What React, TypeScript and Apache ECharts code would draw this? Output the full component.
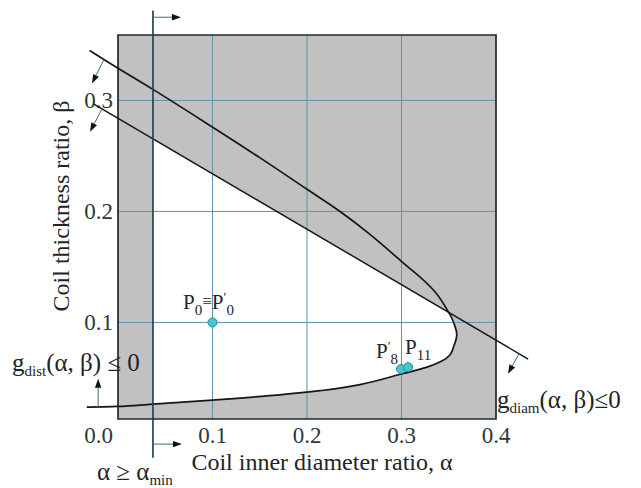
import React, { useEffect, useRef } from 'react';
import * as echarts from 'echarts';

const W = 641;
const H = 488;
const FONT = '"Liberation Serif", "Times New Roman", serif';
const INK = '#1c2628';
const TICK_INK = '#2d3839';
const GRID_BLUE = '#5f95a9';
const FRAME = '#1d2b2e';
const SHADE = '#c1c1c1';
const CURVE = '#161616';
const SHAFT = '#3f6f7b';
const SMOOTH = 0.4;

// axis ranges (alpha horizontal, beta vertical)
const X_MIN = 0;
const X_MAX = 0.4;
const X_STEP = 0.1;
const Y_MIN = 0.013;
const Y_MAX = 0.359;
const xGrid = [0.1, 0.2, 0.3];
const yGrid = [0.1, 0.2, 0.3];

// lower bound on alpha and the vertical extent of its marker line
const ALPHA_MIN = 0.037;
const alphaMinSpan = [-0.022, 0.381];

// g_diam boundary (straight line), end points
const gDiamAlpha = [-0.026, 0.434];
const gDiamBeta = [0.297, 0.067];

// g_dist boundary, traced from the lower branch round the nose to the upper branch
const gDistAlpha = [-0.033, 0.0, 0.037, 0.1, 0.16, 0.214, 0.256, 0.3, 0.327, 0.341, 0.351, 0.3555, 0.3585, 0.3555, 0.351, 0.334, 0.3, 0.265, 0.235, 0.2, 0.15, 0.101, 0.037, 0.0, -0.03];
const gDistBeta = [0.0237, 0.0243, 0.0264, 0.03, 0.034, 0.0385, 0.044, 0.0535, 0.0597, 0.0645, 0.0705, 0.079, 0.089, 0.099, 0.1075, 0.129, 0.155, 0.1805, 0.2, 0.22, 0.2485, 0.2755, 0.31, 0.329, 0.345];

// design points
const pointAlpha = [0.1, 0.2995, 0.307];
const pointBeta = [0.1, 0.058, 0.0597];

const txt = (size: number, extra: any = {}) => ({ fontFamily: FONT, fontSize: size, color: INK, fill: INK, opacity: 1, ...extra });

// annotation text: main run, subscripts
const richNote = {
  m: txt(25),
  d: txt(15, { padding: [17, 0, 0, 0] }),
};

// point names: main run, subscript, identity sign, prime
const richPoint = {
  m: txt(21),
  s: txt(15, { padding: [16, 0, 0, 0] }),
  q: txt(17),
  p: txt(13, { padding: [0, 0, 10, 0] }),
};

const pointLabels = [
  { text: '{m|P}{s|0}{q|≡}{m|P}{p|′}{s|0}', position: 'top', align: 'center', offset: [-4, 2] },
  { text: '{m|P}{p|′}{s|8}', position: 'top', align: 'right', offset: [-3, 4] },
  { text: '{m|P}{s|11}', position: 'top', align: 'left', offset: [-3, 2] },
];

// arrows: start point on a boundary (alpha, beta) and pixel direction
const arrowSpecs: [number, number, number, number][] = [
  [ALPHA_MIN, 0.375, 28, 0],
  [ALPHA_MIN, -0.0096, 29, 0],
  [-0.0148, 0.337, -12, 24],
  [-0.0169, 0.2925, -12, 23],
  [0.4243, 0.0718, -11, 20],
  [-0.021, 0.024, 0, -28],
];

function arrowEls(x0: number, y0: number, dx: number, dy: number) {
  const len = Math.hypot(dx, dy);
  const ux = dx / len;
  const uy = dy / len;
  const nx = -uy;
  const ny = ux;
  const tip = [x0 + dx, y0 + dy];
  const head = 9;
  const half = 3.2;
  const base = [tip[0] - ux * head, tip[1] - uy * head];
  return [
    { type: 'line', z: 10, shape: { x1: x0, y1: y0, x2: base[0], y2: base[1] }, style: { stroke: SHAFT, lineWidth: 1 } },
    {
      type: 'polygon', z: 10,
      shape: { points: [tip, [base[0] + nx * half, base[1] + ny * half], [base[0] - nx * half, base[1] - ny * half]] },
      style: { fill: '#111' },
    },
  ];
}

const onStep = (v: number) => Math.abs(v * 10 - Math.round(v * 10)) < 1e-6;
const gDistPoints = gDistAlpha.map((a, i) => [a, gDistBeta[i]]);
const gDiamPoints = gDiamAlpha.map((a, i) => [a, gDiamBeta[i]]);

export default function App() {
  const ref = useRef<HTMLDivElement>(null);

  useEffect(() => {
    if (!ref.current) return;
    const chart = echarts.init(ref.current, null, { renderer: 'svg', width: W, height: H });

    const option: any = {
      animation: false,
      backgroundColor: '#ffffff',
      grid: { left: 118, right: 145, top: 35, bottom: 69, outerBoundsMode: 'none' },
      xAxis: {
        type: 'value', min: X_MIN, max: X_MAX, interval: X_STEP,
        axisLine: { show: false }, axisTick: { show: false }, splitLine: { show: false },
        axisLabel: {
          formatter: (v: number) => (v === 0 ? '' : v.toFixed(1)),
          fontFamily: FONT, fontSize: 23, color: TICK_INK, margin: 5,
        },
      },
      yAxis: {
        type: 'value', min: Y_MIN, max: Y_MAX, splitNumber: 3, minInterval: 0.1, maxInterval: 0.1,
        axisLine: { show: false }, axisTick: { show: false }, splitLine: { show: false },
        axisLabel: {
          formatter: (v: number) => (onStep(v) ? v.toFixed(1) : ''),
          showMinLabel: false, showMaxLabel: false,
          fontFamily: FONT, fontSize: 23, color: TICK_INK, margin: 5,
        },
      },
      series: [
        {
          // shaded infeasible area, white feasible region and grid lines
          type: 'custom', z: 1, silent: true, clip: true,
          data: [[X_MIN, Y_MIN]],
          renderItem: (params: any, api: any) => {
            const cs = params.coordSys;
            const c = (p: number[]) => api.coord(p);
            const children: any[] = [
              { type: 'rect', shape: { x: cs.x, y: cs.y, width: cs.width, height: cs.height }, style: { fill: SHADE } },
              { type: 'polygon', shape: { points: gDistPoints.map(c), smooth: SMOOTH }, style: { fill: '#ffffff' } },
              {
                type: 'polygon',
                shape: { points: [c(gDiamPoints[0]), c(gDiamPoints[1]), c([gDiamAlpha[1], Y_MAX + 0.05]), c([gDiamAlpha[0], Y_MAX + 0.05])] },
                style: { fill: SHADE },
              },
              {
                type: 'polygon',
                shape: { points: [c([X_MIN - 0.05, Y_MIN - 0.05]), c([ALPHA_MIN, Y_MIN - 0.05]), c([ALPHA_MIN, Y_MAX + 0.05]), c([X_MIN - 0.05, Y_MAX + 0.05])] },
                style: { fill: SHADE },
              },
            ];
            xGrid.forEach((v) => {
              const a = c([v, Y_MIN]);
              const b = c([v, Y_MAX]);
              children.push({ type: 'line', shape: { x1: a[0], y1: a[1], x2: b[0], y2: b[1] }, style: { stroke: GRID_BLUE, lineWidth: 1 } });
            });
            yGrid.forEach((v) => {
              const a = c([X_MIN, v]);
              const b = c([X_MAX, v]);
              children.push({ type: 'line', shape: { x1: a[0], y1: a[1], x2: b[0], y2: b[1] }, style: { stroke: GRID_BLUE, lineWidth: 1 } });
            });
            return { type: 'group', children };
          },
        },
        {
          // frame and constraint boundaries, running past the plot edge
          type: 'custom', z: 4, silent: true, clip: false,
          data: [[X_MIN, Y_MIN]],
          renderItem: (params: any, api: any) => {
            const cs = params.coordSys;
            const c = (p: number[]) => api.coord(p);
            const a0 = c([ALPHA_MIN, alphaMinSpan[0]]);
            const a1 = c([ALPHA_MIN, alphaMinSpan[1]]);
            const d0 = c(gDiamPoints[0]);
            const d1 = c(gDiamPoints[1]);
            return {
              type: 'group',
              children: [
                { type: 'rect', shape: { x: cs.x, y: cs.y, width: cs.width, height: cs.height }, style: { fill: 'none', stroke: FRAME, lineWidth: 1.7 } },
                { type: 'polyline', shape: { points: gDistPoints.map(c), smooth: SMOOTH }, style: { fill: 'none', stroke: CURVE, lineWidth: 1.7 } },
                { type: 'line', shape: { x1: d0[0], y1: d0[1], x2: d1[0], y2: d1[1] }, style: { stroke: CURVE, lineWidth: 1.5 } },
                { type: 'line', shape: { x1: a0[0], y1: a0[1], x2: a1[0], y2: a1[1] }, style: { stroke: '#24454d', lineWidth: 1.7 } },
              ],
            };
          },
        },
        {
          type: 'scatter', z: 5, silent: true, symbolSize: 9,
          itemStyle: { color: '#46c7ce', borderColor: '#1f8c97', borderWidth: 1, opacity: 1 },
          data: pointAlpha.map((a, i) => ({
            value: [a, pointBeta[i]],
            label: {
              show: true,
              color: INK,
              opacity: 1,
              textBorderWidth: 0,
              formatter: pointLabels[i].text,
              position: pointLabels[i].position,
              align: pointLabels[i].align,
              offset: pointLabels[i].offset,
              distance: 2,
              rich: richPoint,
            },
          })),
        },
      ],
    };
    chart.setOption(option);

    const toPx = (a: number, b: number) => chart.convertToPixel({ seriesIndex: 2 }, [a, b]) as number[];
    const graphics: any[] = [];
    arrowSpecs.forEach(([a, b, dx, dy]) => {
      const p = toPx(a, b);
      graphics.push(...arrowEls(p[0], p[1], dx, dy));
    });
    const zero = toPx(X_MIN, 0);
    const left = toPx(X_MIN, Y_MIN);
    graphics.push(
      {
        type: 'text', z: 10, x: left[0] - 5, y: zero[1] + 2,
        style: { text: '0.0', fontFamily: FONT, fontSize: 23, fill: TICK_INK, align: 'right', verticalAlign: 'middle' },
      },
      {
        type: 'text', z: 10, x: 61, y: 206, rotation: Math.PI / 2,
        style: { text: 'Coil thickness ratio, β', fontFamily: FONT, fontSize: 24, fill: INK, align: 'center', verticalAlign: 'middle' },
      },
      {
        type: 'text', z: 10, x: 322, y: 462,
        style: { text: 'Coil inner diameter ratio, α', fontFamily: FONT, fontSize: 24, fill: INK, align: 'center', verticalAlign: 'middle' },
      },
      {
        type: 'text', z: 10, x: 12, y: 362,
        style: { text: '{m|g}{d|dist}{m|(α, β) ≤ 0}', rich: richNote, align: 'left', verticalAlign: 'middle' },
      },
      {
        type: 'text', z: 10, x: 497, y: 399,
        style: { text: '{m|g}{d|diam}{m|(α, β)≤0}', rich: richNote, align: 'left', verticalAlign: 'middle' },
      },
      {
        type: 'text', z: 10, x: 97, y: 471,
        style: { text: '{m|α ≥ α}{d|min}', rich: richNote, align: 'left', verticalAlign: 'middle' },
      },
    );
    chart.setOption({ graphic: graphics });

    return () => chart.dispose();
  }, []);

  return (
    <div style={{ position: 'fixed', left: 0, top: 0, width: W, height: H, background: '#ffffff' }}>
      <div ref={ref} style={{ width: W, height: H }} />
    </div>
  );
}
